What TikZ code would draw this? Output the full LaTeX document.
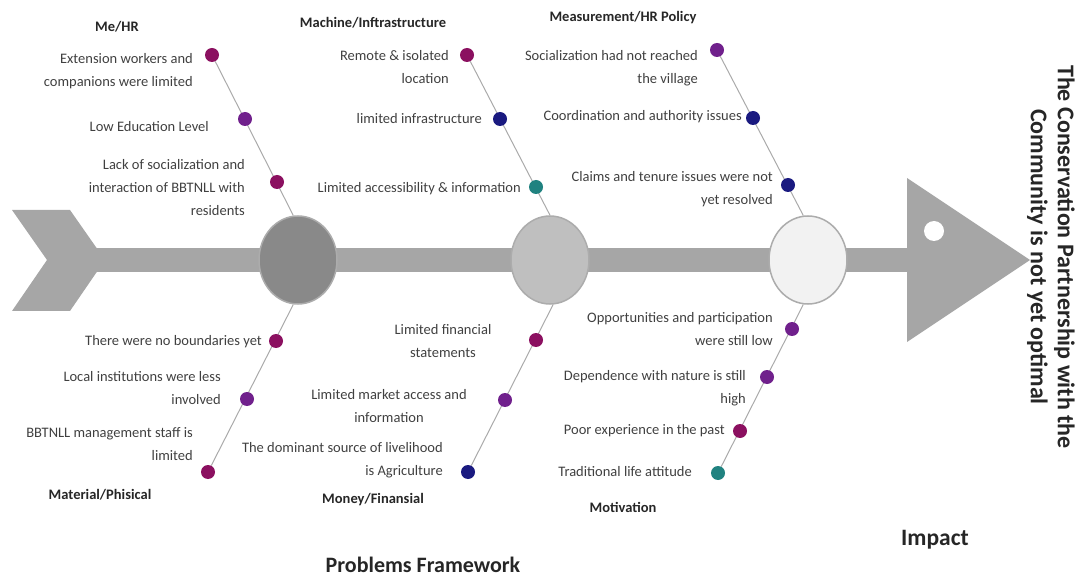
\documentclass[tikz,border=0pt]{standalone}
\usepackage{fontspec}
\setmainfont{Carlito}
\usepackage{xcolor}
\usepackage{tikz}
\usetikzlibrary{shapes}
\pgfdeclarelayer{bg}
\pgfsetlayers{bg,main}
\definecolor{spinegray}{RGB}{166,166,166}
\definecolor{rimgray}{RGB}{172,172,172}
\definecolor{bonegray}{RGB}{170,170,170}
\definecolor{hubdark}{RGB}{137,137,137}
\definecolor{hubmid}{RGB}{191,191,191}
\definecolor{hublight}{RGB}{242,242,242}
\definecolor{plum}{RGB}{139,16,96}
\definecolor{violet}{RGB}{112,32,140}
\definecolor{navy}{RGB}{26,26,128}
\definecolor{teal}{RGB}{32,130,128}
\definecolor{txtgray}{RGB}{64,64,64}
\tikzstyle{causedot}=[circle, inner sep=0pt, minimum size=14pt]
\tikzstyle{cause}=[inner sep=0pt, anchor=east, align=right, text=txtgray, font=\fontsize{14.5}{23}\selectfont]
\tikzstyle{head}=[inner sep=0pt, text=black!85, font=\fontsize{14.5}{18}\selectfont\bfseries]
\tikzstyle{bigtitle}=[inner sep=0pt, text=black!85, font=\fontsize{22}{27}\selectfont\bfseries]
\tikzstyle{bone}=[draw=bonegray, line width=1pt]
\tikzstyle{hub}=[ellipse, draw=rimgray, line width=1.5pt, minimum width=78pt, minimum height=88pt]

\begin{document}
\begin{tikzpicture}[x=1pt, y=-1pt]
				\useasboundingbox (0,0) rectangle (1079,577);
				\fill[spinegray] (12,210) -- (70,210) -- (105,260) -- (70,311) -- (12,311) -- (47,260) -- cycle;
				\fill[spinegray] (97,248) rectangle (910,272);
				\fill[spinegray] (907,178) -- (1030,260) -- (907,342) -- cycle;
				\fill[white] (934,231) circle (10);
				\node[hub, fill=hubdark] (c1) at (298,260) {};
				\node[hub, fill=hubmid] (c2) at (550,260) {};
				\node[hub, fill=hublight] (c3) at (808,260) {};
				\node[causedot, fill=plum] (d11) at (212,55) {};
				\node[causedot, fill=violet] (d12) at (245,119) {};
				\node[causedot, fill=plum] (d13) at (277,182) {};
				\node[causedot, fill=plum] (d21) at (467,55) {};
				\node[causedot, fill=navy] (d22) at (500,119) {};
				\node[causedot, fill=teal] (d23) at (536,187) {};
				\node[causedot, fill=violet] (d31) at (717,50) {};
				\node[causedot, fill=navy] (d32) at (753,118) {};
				\node[causedot, fill=navy] (d33) at (788,185) {};
				\node[causedot, fill=plum] (e11) at (276,341) {};
				\node[causedot, fill=violet] (e12) at (247,399) {};
				\node[causedot, fill=plum] (e13) at (208,472) {};
				\node[causedot, fill=plum] (e21) at (536,340) {};
				\node[causedot, fill=violet] (e22) at (505,400) {};
				\node[causedot, fill=navy] (e23) at (468,472) {};
				\node[causedot, fill=violet] (e31) at (792,329) {};
				\node[causedot, fill=violet] (e32) at (767,377) {};
				\node[causedot, fill=plum] (e33) at (740,431) {};
				\node[causedot, fill=teal] (e34) at (718,473) {};
				\begin{pgfonlayer}{bg}
				\draw[bone] (c1.96) -- (d11);
				\draw[bone] (c2.90) -- (d21);
				\draw[bone] (c3.96) -- (d31);
				\draw[bone] (c1.-96) -- (e13);
				\draw[bone] (c2.-86) -- (e23);
				\draw[bone] (c3.-96) -- (e34);
				\end{pgfonlayer}
				\node[head] (hhr) at (117,27) {Me/HR};
				\node[head] (hmach) at (373,23) {Machine/Inftrastructure};
				\node[head] (hmeas) at (623,18) {Measurement/HR Policy};
				\node[head] (hmat) at (100,495) {Material/Phisical};
				\node[head] (hmon) at (373,500) {Money/Finansial};
				\node[head] (hmot) at (623,507) {Motivation};
				\node[cause] (t11) at (193,71.5) {Extension workers and\\companions were limited};
				\node[cause] (t12) at (209,127) {Low Education Level};
				\node[cause] (t13) at (245,187.5) {Lack of socialization and\\interaction of BBTNLL with\\residents};
				\node[cause] (t21) at (449,67.5) {Remote \& isolated\\location};
				\node[cause] (t22) at (482,119) {limited infrastructure};
				\node[cause] (t23) at (521,189) {Limited accessibility \& information};
				\node[cause] (t31) at (698,68.5) {Socialization had not reached\\the village};
				\node[cause] (t32) at (742,117) {Coordination and authority issues};
				\node[cause] (t33) at (773,189.5) {Claims and tenure issues were not\\yet resolved};
				\node[cause] (b11) at (262,342) {There were no boundaries yet};
				\node[cause] (b12) at (221,388.5) {Local institutions were less\\involved};
				\node[cause] (b13) at (193,444.5) {BBTNLL management staff is\\limited};
				\node[cause, anchor=center, align=center] (b21) at (443,341.5) {Limited financial\\statements};
				\node[cause, anchor=center, align=center] (b22) at (389,406) {Limited market access and\\information};
				\node[cause] (b23) at (443,460) {The dominant source of livelihood\\is Agriculture};
				\node[cause] (b31) at (773,329) {Opportunities and participation\\were still low};
				\node[cause] (b32) at (746,388.5) {Dependence with nature is still\\high};
				\node[cause] (b33) at (725,431) {Poor experience in the past};
				\node[cause] (b34) at (692,472) {Traditional life attitude};
				\node[bigtitle, align=center, rotate=-90, font=\fontsize{24}{27}\selectfont\bfseries] (goal) at (1051,257) {The Conservation Partnership with the\\Community is not yet optimal};
				\node[bigtitle] (frame) at (423,565) {Problems Framework};
				\node[bigtitle, font=\fontsize{23.5}{27}\selectfont\bfseries] (impact) at (935,540) {Impact};
			\end{tikzpicture}
\end{document}
